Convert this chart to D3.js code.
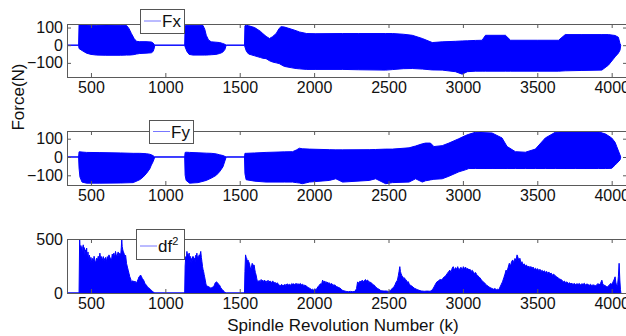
<!DOCTYPE html>
<html><head><meta charset="utf-8">
<script src="https://cdn.jsdelivr.net/npm/d3@7"></script>
<style>body{margin:0;background:#fff}svg{display:block}text{font-family:"Liberation Sans",Arial,Helvetica,sans-serif}</style>
</head><body><svg id="c" width="626" height="336"></svg>
<script>
// ---------- data ----------
const xTicks = [500, 1000, 1500, 2000, 2500, 3000, 3500, 4000];
const forceTicks = [-100, 0, 100];
const dfTicks = [0, 500];
const seriesNames = ["Fx", "Fy", "df"];
const xLabel = "Spindle Revolution Number (k)";
const yLabel = "Force(N)";

// Fx envelope (k, upper, lower)
const fxK  = [339,417,420,440,470,500,538,600,700,739,755,772,790,806,828,870,906,918,926,929,1130,1133,1145,1160,1186,1253,1265,1275,1290,1308,1340,1365,1385,1400,1409,1532,1535,1545,1560,1600,1640,1655,1677,1700,1720,1745,1765,1778,1800,1850,1879,1901,1950,2012,2191,2300,2481,2526,2600,2660,2727,2794,2861,2950,2995,3030,3084,3129,3152,3286,3320,3500,3643,3688,3800,3934,3978,4023,4045,4056,4061];
const fxHi = [0,0,119,116,114,113,113,114,113,112,95,66,38,22,20,20,18,12,4,0,0,110,113,113,113,112,90,56,30,19,17,15,10,5,0,0,110,113,110,100,78,66,50,38,48,66,95,105,103,90,82,75,66,65,66,66,66,66,62,56,38,15,19,22,24,25,27,28,56,56,28,28,28,60,60,60,60,55,45,9,0];
const fxLo = [0,0,-19,-30,-45,-52,-56,-57,-57,-56,-56,-55,-53,-50,-47,-45,-43,-35,-15,0,0,-10,-35,-52,-56,-56,-56,-56,-55,-54,-52,-47,-40,-25,0,0,-10,-35,-50,-60,-70,-74,-76,-88,-95,-100,-104,-110,-120,-128,-132,-134,-137,-137,-137,-139,-141,-138,-133,-132,-135,-140,-141,-150,-164,-150,-147,-147,-147,-147,-147,-147,-147,-145,-143,-141,-113,-66,-45,-28,0];

// Fy envelope (k, upper, lower)
const fyK  = [339,417,420,426,440,470,560,700,784,828,850,872,895,906,918,929,1130,1133,1140,1163,1220,1275,1310,1342,1365,1387,1409,1532,1535,1543,1600,1677,1800,1855,1880,1901,1920,1968,2102,2146,2191,2370,2414,2481,2526,2638,2682,2727,2749,2782,2805,2861,2906,2973,3017,3040,3084,3196,3263,3297,3353,3420,3487,3554,3621,3755,3911,3960,4000,4023,4034,4056,4061];
const fyHi = [0,0,28,28,27,25,24,22,20,20,19,18,15,12,7,0,0,25,26,25,23,21,20,17,12,8,0,0,20,20,22,25,28,29,38,48,45,43,40,39,39,40,41,43,43,50,60,72,76,76,57,62,76,100,117,124,135,131,104,57,29,26,43,104,135,140,138,125,104,80,57,11,0];
const fyLo = [0,0,-60,-109,-137,-143,-143,-142,-140,-124,-110,-91,-65,-44,-25,0,0,-100,-128,-143,-140,-128,-115,-100,-80,-54,0,0,-91,-124,-132,-137,-137,-137,-140,-142,-146,-137,-128,-119,-137,-128,-119,-146,-140,-137,-119,-137,-130,-125,-122,-119,-105,-81,-70,-63,-63,-63,-63,-63,-63,-63,-63,-63,-63,-63,-63,-63,-62,-44,-35,-16,0];

// df^2 (k, value)
const dfK = [339,417,420,424,428,432,436,440,444,448,452,456,460,464,468,471,475,480,485,490,495,500,505,510,516,521,527,532,538,543,549,554,560,565,571,576,583,588,594,599,605,610,616,621,627,632,638,643,649,654,660,665,672,677,683,688,694,700,704,707,710,714,718,722,727,733,739,745,750,756,761,767,772,778,784,790,795,800,806,812,818,823,828,834,840,845,851,857,862,868,873,879,884,890,895,901,907,912,918,924,929,
 1130,1133,1137,1141,1145,1149,1152,1156,1160,1163,1167,1171,1175,1178,1182,1186,1190,1193,1197,1201,1205,1208,1212,1216,1220,1223,1227,1230,1234,1238,1242,1246,1250,1253,1257,1261,1264,1268,1272,1275,1280,1287,1294,1300,1306,1313,1320,1326,1331,1336,1342,1347,1353,1358,1365,1372,1380,1387,1395,1402,1409,
 1532,1535,1539,1543,1547,1551,1555,1560,1565,1570,1575,1580,1584,1588,1592,1597,1601,1605,1610,1615,1620,1626,1632,1638,1644,1650,1655,1661,1667,1672,1677,1683,1690,1697,1705,1712,1722,1730,1737,1745,1752,1760,1767,1775,1782,1790,1798,1805,1811,1818,1826,1834,1842,1850,1856,1863,1870,1878,1885,1892,1900,1908,1915,1923,1930,1938,1946,1953,1960,1968,1975,1983,1990,1998,2005,2012,2020,2027,2035,2042,2050,2057,2064,2072,2079,2086,2094,2102,2110,2118,2126,2134,2142,2150,2158,2166,2174,2182,2191,2200,2215,2230,2245,2260,2275,2285,2292,2300,2308,2316,2323,2330,2338,2345,2352,2360,2367,2375,2382,2390,2398,2405,2413,2420,2428,2436,2445,2455,2470,2485,2500,2515,2526,2537,2545,2552,2560,2566,2571,2576,2580,2584,2590,2596,2602,2608,2614,2620,2626,2633,2640,2648,2656,2664,2672,2680,2688,2696,2705,2720,2740,2760,2780,2795,2806,2815,2825,2835,2845,2855,2865,2875,2885,2895,2905,2912,2920,2928,2935,2942,2950,2958,2965,2972,2980,2988,2995,3003,3010,3018,3025,3033,3040,3048,3055,3063,3070,3078,3085,3093,3100,3108,3115,3123,3130,3138,3145,3153,3160,3168,3175,3183,3190,3198,3205,3215,3225,3233,3241,3250,3258,3266,3275,3283,3290,3297,3305,3312,3320,3327,3335,3342,3350,3357,3364,3370,3376,3383,3390,3397,3405,3412,3420,3427,3435,3442,3450,3458,3465,3472,3480,3488,3495,3503,3510,3518,3525,3533,3540,3548,3555,3563,3570,3578,3585,3593,3600,3610,3620,3630,3640,3650,3658,3666,3675,3683,3690,3700,3710,3718,3725,3733,3740,3750,3758,3766,3775,3783,3790,3800,3808,3816,3825,3833,3840,3850,3858,3866,3875,3883,3890,3900,3908,3915,3925,3934,3940,3948,3955,3963,3970,3978,3985,3992,4000,4008,4015,4023,4028,4034,4040,4045,4050,4055,4059,4062];
const dfV = [0,0,0,500,380,440,400,430,360,446,390,420,350,400,330,416,320,380,300,350,290,330,280,320,290,340,300,275,322,300,340,310,369,320,337,300,337,300,322,330,290,337,320,353,330,322,300,360,340,369,330,385,337,350,380,340,369,350,420,500,430,400,380,369,340,350,275,240,212,180,150,130,103,110,112,100,110,103,95,110,130,150,156,166,150,135,125,110,90,80,72,60,50,45,41,30,25,16,10,5,0,
 0,250,337,300,385,340,360,320,370,300,340,290,320,275,337,306,337,300,322,290,350,330,369,310,340,306,353,340,360,385,330,290,244,220,200,170,150,120,90,72,65,60,56,50,45,50,56,60,80,95,103,100,90,80,72,50,35,25,15,5,0,
 0,200,353,330,320,280,306,290,275,240,212,250,275,240,260,259,220,190,166,130,103,110,115,105,125,112,118,105,120,100,112,95,118,105,110,95,112,90,100,85,95,80,72,70,80,65,75,78,70,85,75,80,72,88,80,85,78,88,82,84,80,88,75,82,70,72,65,60,50,45,41,30,35,25,40,30,45,60,72,85,80,119,100,110,95,103,90,95,80,88,72,75,72,60,56,50,45,35,25,20,15,12,15,12,16,40,103,90,110,100,119,105,115,125,110,120,100,103,95,88,75,72,56,50,40,35,25,20,18,19,15,25,45,56,80,103,119,160,200,244,200,181,160,150,135,140,120,119,100,105,80,72,65,56,45,41,35,31,25,19,16,18,16,30,56,80,103,110,125,120,135,150,160,181,200,212,190,230,244,210,235,220,244,215,228,238,210,244,225,240,219,228,212,220,200,210,195,181,190,170,160,150,140,125,110,103,95,80,72,65,56,50,45,41,35,41,31,35,30,56,80,103,140,175,212,200,240,275,250,290,306,280,320,300,353,330,300,322,280,290,260,270,250,259,240,250,235,245,230,240,219,230,215,225,206,220,200,210,197,206,190,200,181,195,175,185,165,175,160,150,140,130,125,119,103,110,95,103,88,95,85,90,80,88,78,85,81,88,75,85,80,90,72,85,78,72,80,70,75,72,68,75,88,72,90,119,85,70,72,60,56,65,75,88,80,100,120,150,100,60,80,150,275,120,30,0];

// ---------- layout ----------
const left = 67, right = 627;
const panels = [
  {top: 24,  bottom: 77,  dom: [-180, 120], ticks: forceTicks, name: seriesNames[0], k: fxK, hi: fxHi, lo: fxLo,
   leg: {x: 140, y: 9, w: 44, h: 24}},
  {top: 131, bottom: 185, dom: [-153, 142], ticks: forceTicks, name: seriesNames[1], k: fyK, hi: fyHi, lo: fyLo,
   leg: {x: 149, y: 120, w: 44, h: 23}},
  {top: 239, bottom: 293, dom: [0, 500], ticks: dfTicks, name: seriesNames[2], k: dfK, hi: dfV, lo: null,
   leg: {x: 136, y: 229, w: 48, h: 30}}
];

const svg = d3.select("#c");
const x = d3.scaleLinear().domain([339, 4103]).range([left, right]);
const BLUE = "#0000ff", AX = "#5a5a5a";
const fmt = d3.format("d");

panels.forEach((p, i) => {
  const y = d3.scaleLinear().domain(p.dom).range([p.bottom, p.top]);
  const g = svg.append("g");
  const clipId = "clip" + i;
  svg.append("clipPath").attr("id", clipId).append("rect")
    .attr("x", left).attr("y", p.top).attr("width", right - left).attr("height", p.bottom - p.top);

  const pts = p.k.map((k, j) => ({k, hi: p.hi[j], lo: p.lo ? p.lo[j] : 0}));
  const area = d3.area().x(d => x(d.k)).y0(d => y(d.lo)).y1(d => y(d.hi));
  g.append("path").datum(pts).attr("clip-path", `url(#${clipId})`)
    .attr("d", area).attr("fill", BLUE).attr("stroke", BLUE).attr("stroke-width", 1);

  // axes with inward ticks
  const tk = 4;
  g.append("g").attr("transform", `translate(0,${p.bottom})`)
    .call(d3.axisBottom(x).tickValues(xTicks).tickFormat(fmt).tickSizeInner(-tk).tickSizeOuter(0).tickPadding(5));
  g.append("g").attr("transform", `translate(0,${p.top})`)
    .call(d3.axisTop(x).tickValues(xTicks).tickSizeInner(-tk).tickSizeOuter(0).tickFormat(""));
  g.append("g").attr("transform", `translate(${left},0)`)
    .call(d3.axisLeft(y).tickValues(p.ticks).tickFormat(fmt).tickSizeInner(-tk).tickSizeOuter(0).tickPadding(4));
  g.append("g").attr("transform", `translate(${right},0)`)
    .call(d3.axisRight(y).tickValues(p.ticks).tickSizeInner(-tk).tickSizeOuter(0).tickFormat(""));
  g.selectAll(".domain").remove();
  g.selectAll(".tick line").attr("stroke", AX);
  g.selectAll(".tick text").attr("font-size", 16).attr("fill", "#111")
    .attr("font-family", '"Liberation Sans",Arial,sans-serif');
  g.append("rect").attr("x", left + 0.5).attr("y", p.top + 0.5)
    .attr("width", right - left).attr("height", p.bottom - p.top)
    .attr("fill", "none").attr("stroke", AX).attr("stroke-width", 1);

  // legend
  const L = p.leg;
  const lg = svg.append("g");
  lg.append("rect").attr("x", L.x + 0.5).attr("y", L.y + 0.5).attr("width", L.w).attr("height", L.h)
    .attr("fill", "#fff").attr("stroke", "#555").attr("stroke-width", 1);
  const cy = L.y + L.h / 2 + (i === 2 ? 2 : 0);
  lg.append("line").attr("x1", L.x + 4).attr("x2", L.x + 21).attr("y1", cy).attr("y2", cy)
    .attr("stroke", "#7777ff").attr("stroke-width", 1);
  const t = lg.append("text").attr("x", L.x + 22).attr("y", cy + 6)
    .attr("font-size", 17).attr("fill", "#111").text(p.name);
  if (i === 2) t.append("tspan").attr("dy", -7).attr("font-size", 11).text("2");
});

svg.append("text").attr("x", (left + right) / 2 - 4).attr("y", 331).attr("text-anchor", "middle")
  .attr("font-size", 17).attr("fill", "#111").text(xLabel);
svg.append("text").attr("transform", "translate(24,97) rotate(-90)").attr("text-anchor", "middle")
  .attr("font-size", 17).attr("fill", "#111").text(yLabel);
</script></body></html>
